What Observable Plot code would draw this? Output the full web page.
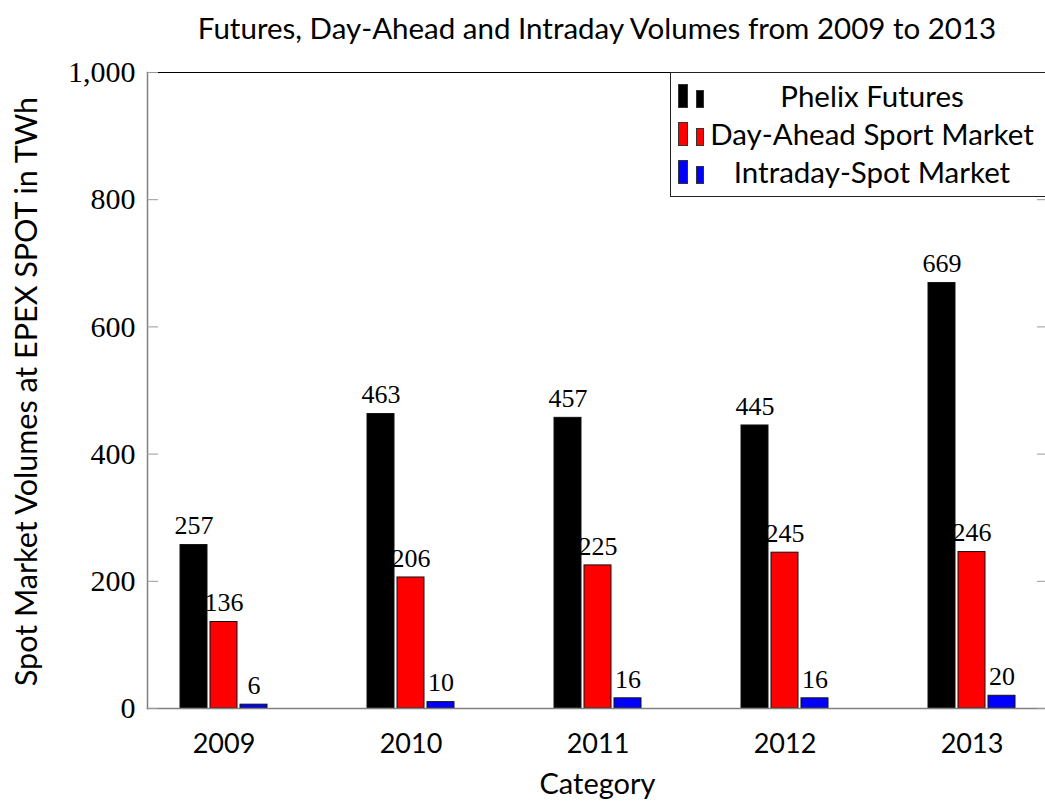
<!DOCTYPE html>
<html>
<head>
<meta charset="utf-8">
<script src="https://cdn.jsdelivr.net/npm/d3@7"></script>
<script src="https://cdn.jsdelivr.net/npm/@observablehq/plot@0.6"></script>
<style>
  html, body { margin: 0; padding: 0; background: #fff; }
  #wrap { position: relative; width: 1045px; height: 803px; overflow: hidden; }
  #title { height: 44px; padding-top: 6px; line-height: 44px; font-family: Lato, sans-serif; font-size: 29.5px;
           color: #000; position: relative; }
  #title span { position: absolute; left: 147px; width: 900px; text-align: center; }
  #legend { position: absolute; left: 670px; top: 72px; width: 400px; height: 125px; border: 1px solid #222;
            box-sizing: border-box; background: #fff; font-family: Lato, sans-serif; font-size: 29.5px; }
  .row { position: absolute; left: 0; width: 380px; height: 38px; }
  .row .txt { position: absolute; left: 38px; width: 326px; text-align: center; line-height: 36px; color: #000; white-space: nowrap; }
  .sw { position: absolute; box-sizing: border-box; border: 1px solid #333; }
</style>
</head>
<body>
<div id="wrap">
  <div id="title"><span></span></div>
  <div id="chart"></div>
  <div id="legend"></div>
</div>
<script>
const titleText = "Futures, Day-Ahead and Intraday Volumes from 2009 to 2013";
const yLabel = "Spot Market Volumes at EPEX SPOT in TWh";
const xLabel = "Category";
const years = ["2009", "2010", "2011", "2012", "2013"];
const seriesNames = ["Phelix Futures", "Day-Ahead Sport Market", "Intraday-Spot Market"];
const phelixFutures = [257, 463, 457, 445, 669];
const dayAheadSpot = [136, 206, 225, 245, 246];
const intradaySpot = [6, 10, 16, 16, 20];
const yTicks = [0, 200, 400, 600, 800, 1000];
const seriesColors = ["#000000", "#ff0000", "#0000ff"];

const seriesValues = [phelixFutures, dayAheadSpot, intradaySpot];
const offsets = [-30, 0, 30];
const serif = "'Liberation Serif', 'DejaVu Serif', serif";
const sans = "Lato, sans-serif";

document.querySelector("#title span").textContent = titleText;

const barMarks = [];
seriesValues.forEach((vals, i) => {
  const data = years.map((y, j) => ({year: y, value: vals[j], series: seriesNames[i]}));
  barMarks.push(Plot.barY(data, {x: "year", y: "value", fill: seriesColors[i], stroke: "#111", strokeWidth: 1, dx: offsets[i]}));
  barMarks.push(Plot.text(data, {x: "year", y: "value", text: d => String(d.value), dx: offsets[i], dy: -19,
    fontFamily: serif, fontSize: 26, fill: "#000", lineAnchor: "middle"}));
});

const chart = Plot.plot({
  width: 1045,
  height: 753,
  marginTop: 22,
  marginBottom: 95,
  marginLeft: 147,
  marginRight: -2,
  style: {background: "#fff", color: "#000"},
  x: {domain: years, paddingInner: 0.856, paddingOuter: 0.328, label: null},
  y: {domain: [0, 1000], label: null},
  marks: [
    Plot.frame({anchor: "top", stroke: "#000", strokeWidth: 1.2}),
    ...barMarks,
    Plot.frame({anchor: "left", stroke: "#808080", strokeWidth: 1.5}),
    Plot.frame({anchor: "bottom", stroke: "#808080", strokeWidth: 1.5}),
    Plot.axisY({anchor: "left", ticks: yTicks, tickSize: 11, dx: 11, tickFormat: () => "", stroke: "#999", label: null}),
    Plot.axisY({anchor: "right", ticks: yTicks, tickSize: 11, dx: -11, tickFormat: () => "", stroke: "#999", label: null}),
    Plot.axisY({anchor: "left", ticks: yTicks, tickSize: 0, tickPadding: 12, tickFormat: d3.format(","),
      fontSize: 30, fontFamily: serif, fill: "#000", label: null}),
    Plot.axisX({tickSize: 0, tickPadding: 25, fontSize: 27, fontFamily: sans, fill: "#000", label: null}),
    Plot.text([xLabel], {frameAnchor: "bottom", lineAnchor: "middle", textAnchor: "middle", dy: 76, fontSize: 29, fontFamily: sans, fill: "#000"}),
    Plot.text([yLabel], {frameAnchor: "left", textAnchor: "middle", lineAnchor: "middle", dx: -120, dy: 1, rotate: -90, fontSize: 30.5, fontFamily: sans, fill: "#000"})
  ]
});
document.getElementById("chart").appendChild(chart);

const legend = document.getElementById("legend");
seriesNames.forEach((name, i) => {
  const row = document.createElement("div");
  row.className = "row";
  row.style.top = (5 + 38 * i) + "px";
  const a = document.createElement("div");
  a.className = "sw";
  Object.assign(a.style, {left: "7px", top: "6px", width: "10px", height: "24px", background: seriesColors[i]});
  const b = document.createElement("div");
  b.className = "sw";
  Object.assign(b.style, {left: "25px", top: "12px", width: "8px", height: "18px", background: seriesColors[i]});
  const t = document.createElement("div");
  t.className = "txt";
  t.textContent = name;
  row.append(a, b, t);
  legend.appendChild(row);
});
</script>
</body>
</html>
